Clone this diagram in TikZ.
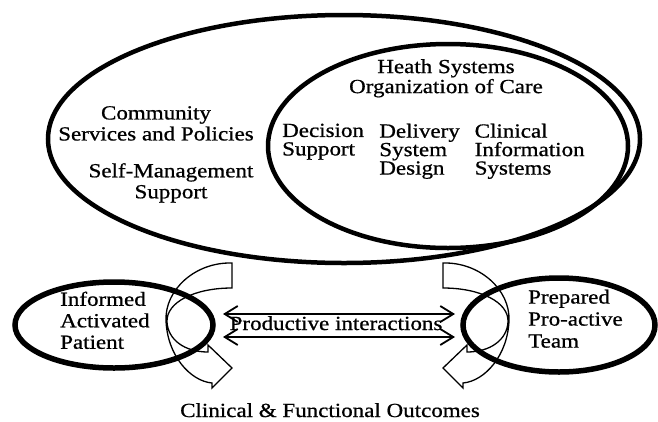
\documentclass[tikz,border=0pt]{standalone}
\usepackage{fontspec}
\setmainfont{Liberation Serif}[FakeStretch=1.15, FakeBold=0.8]
\usepackage{tikz}
\usetikzlibrary{
    shapes.geometric,
    arrows.meta,
    positioning
}
\tikzstyle{oval} = [
    ellipse, draw,
    line width=4.5pt,
    inner sep=0pt,
    outer sep=0pt
]
\tikzstyle{txt} = [
    inner sep=0pt,
    font=\fontsize{20}{21}\selectfont
]
\tikzstyle{ribbon} = [
    line width=1.3pt,
    line join=miter
]
\tikzstyle{arrow} = [
    line width=1.8pt,
    {Straight Barb[length=13pt,width=16pt]}-{Straight Barb[length=13pt,width=16pt]}
]

\begin{document}
\begin{tikzpicture}[x=1pt, y=-1pt]
\useasboundingbox (0,0) rectangle (658,421);

% turning arrows round the two small ovals
\foreach \s/\o in {1/0, -1/675} {
\begin{scope}[xshift=\o pt, xscale=\s]
\draw [ribbon] (232,263) .. controls (195,262) and (165,290) .. (166,320)
    .. controls (167,355) and (190,381) .. (212,383)
    -- (212,388) -- (232,368) -- (208,345) -- (208,352)
    .. controls (185,352) and (168,340) .. (167,322)
    .. controls (166,302) and (195,288) .. (232,288) -- cycle;
\end{scope}
}

\node (system) [oval, minimum width=592pt, minimum height=248pt] at (344,139) {};
\node (care) [oval, minimum width=360pt, minimum height=204pt] at (448,146) {};
\node (patient) [oval, line width=5.5pt, minimum width=198pt, minimum height=86pt] at (114,325) {};
\node (team) [oval, line width=5.5pt, minimum width=192pt, minimum height=94pt] at (559,325) {};

\node (community) [txt, align=center, anchor=north] at (156,106)
    {Community\\Services and Policies};
\node (selfmgmt) [txt, align=center, anchor=north] at (171,163)
    {Self-Management\\Support};
\node (heath) [txt, align=center, anchor=north, font=\fontsize{20}{20}\selectfont] at (446,59)
    {Heath Systems\\Organization of Care};

\node (decision) [txt, align=left, anchor=north west, font=\fontsize{20}{18.5}\selectfont] at (282,123.5)
    {Decision\\Support};
\node (delivery) [txt, align=left, right=15pt of decision.north east, anchor=north west,
    font=\fontsize{20}{18.5}\selectfont]
    {Delivery\\System\\Design};
\node (clinical) [txt, align=left, right=14.5pt of delivery.north east, anchor=north west,
    font=\fontsize{20}{18.5}\selectfont]
    {Clinical\\Information\\Systems};

\node (informed) [txt, align=left, anchor=north west, font=\fontsize{20}{21.5}\selectfont] at (60,291.5)
    {Informed\\Activated\\Patient};
\node (prepared) [txt, align=left, anchor=north west, font=\fontsize{20}{22}\selectfont] at (528,289.5)
    {Prepared\\Pro-active\\Team};

\draw [arrow, shorten <=10pt, shorten >=8pt] ([yshift=11pt]patient.east) -- ([yshift=11pt]team.west);
\draw [arrow, shorten <=10pt, shorten >=8pt] ([yshift=-12pt]patient.east) -- ([yshift=-12pt]team.west);
\node (productive) [txt, anchor=base] at (336,330) {Productive interactions};

\node (outcomes) [txt, anchor=base] at (330,417) {Clinical \& Functional Outcomes};

\end{tikzpicture}
\end{document}
